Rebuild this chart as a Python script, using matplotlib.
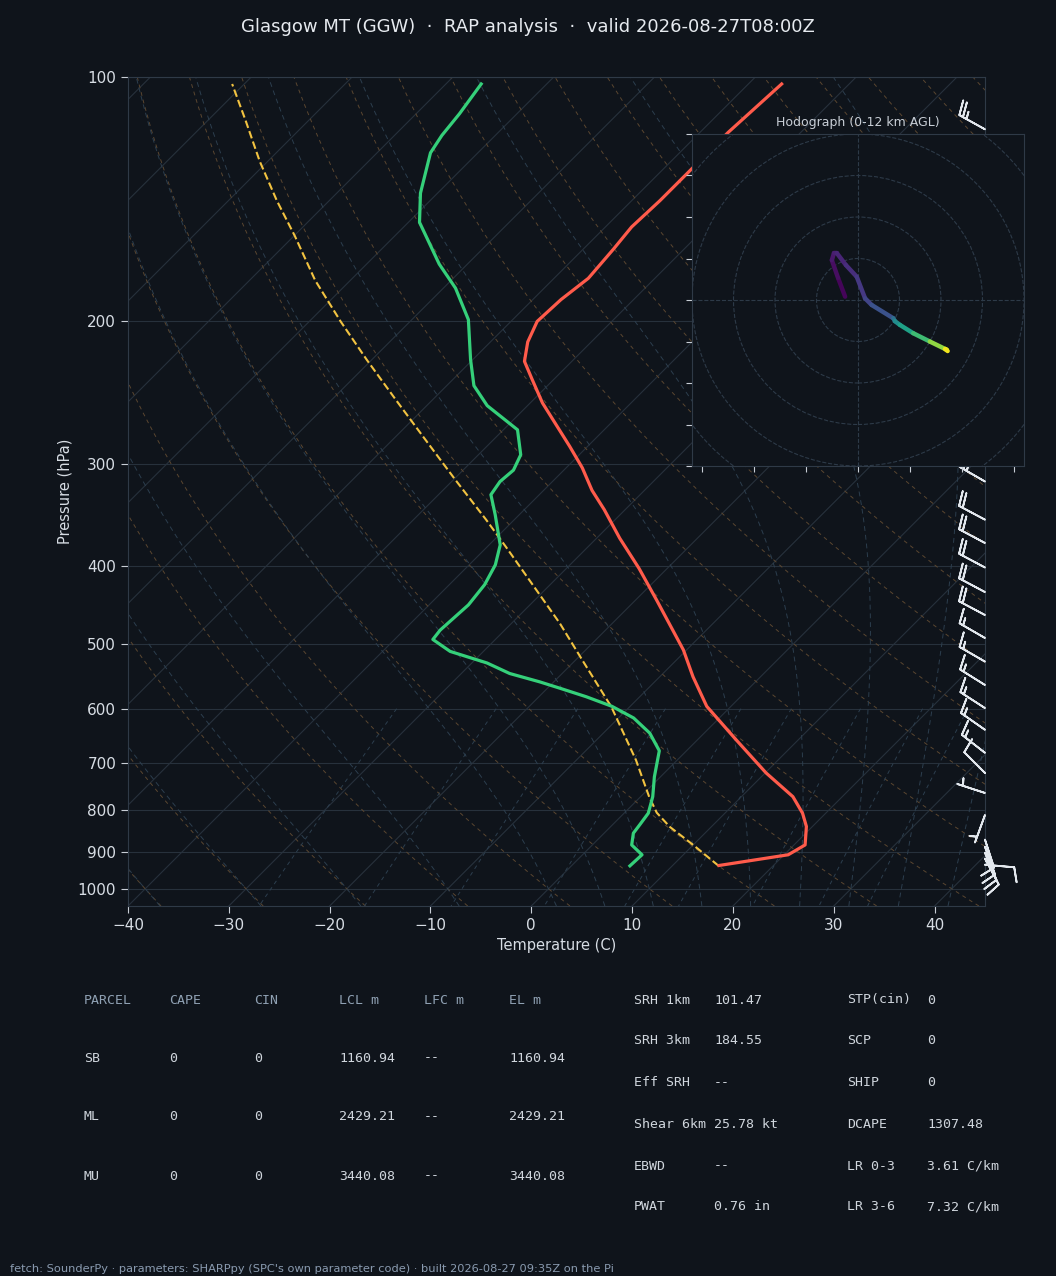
import numpy as np
import matplotlib
matplotlib.use("Agg")
import matplotlib.pyplot as plt
from matplotlib import transforms
from matplotlib.collections import LineCollection
from matplotlib.ticker import FixedLocator, NullLocator, FuncFormatter

# ---- sounding values (hPa, degC) ----
temp_p = [936, 908, 883, 838, 807, 770, 720, 656, 596, 548, 508, 441, 403, 370,
          341, 323, 303, 285, 268, 252, 236, 224, 212, 200, 188, 177, 163, 153,
          142, 130, 117, 102]
temp_c = [14.6, 20.4, 21.1, 19.4, 17.7, 15.1, 10.1, 3.9, -2.4, -6.7, -10.3, -17.9,
          -22.8, -27.7, -32.1, -35.2, -38.4, -41.8, -45.3, -48.8, -52.1, -54.7,
          -56.3, -57.4, -57.2, -56.6, -57.0, -57.4, -57.2, -57.2, -57.2, -56.7]

dew_p = [937, 908, 883, 854, 834, 807, 770, 728, 676, 643, 616, 596, 580, 566,
         556, 543, 527, 510, 493, 480, 447, 422, 399, 377, 346, 327, 315, 305,
         292, 272, 254, 240, 223, 199, 182, 170, 151, 139, 124, 118, 111, 102]
dew_c = [5.8, 5.9, 3.9, 2.9, 2.7, 2.4, 1.2, -0.6, -2.7, -5.4, -8.5, -11.8, -15.3,
         -18.8, -21.4, -25.2, -28.5, -33.3, -36.2, -36.4, -36.1, -36.5, -37.4,
         -38.9, -42.4, -44.8, -45.2, -45.0, -45.8, -48.6, -54.0, -57.3, -60.2,
         -64.4, -68.8, -72.8, -78.9, -81.7, -84.7, -85.3, -85.7, -86.5]

parcel_p = [937, 883, 839, 806, 771, 694, 597, 523, 471, 416, 380, 351, 314, 280,
            250, 223, 200, 178, 157, 142, 127, 113, 102]
parcel_c = [14.6, 10.0, 5.9, 3.2, 0.9, -4.1, -11.8, -19.3, -25.2, -32.6, -38.0,
            -42.8, -49.7, -56.7, -63.6, -70.5, -76.9, -83.5, -89.9, -95.2, -100.8,
            -106.3, -111.2]

# wind barbs (direction from, speed kt)
barb_p = [116, 315, 351, 375, 402, 431, 460, 491, 525, 561, 599, 637, 680, 720,
          762, 811, 870, 888, 903, 918, 934]
barb_dir = [299, 300, 298, 298, 298, 298, 298, 300, 300, 302, 303, 305, 308, 315,
            288, 200, 162, 160, 157, 152, 95]
barb_spd = [25, 25, 20, 20, 20, 20, 20, 15, 15, 15, 15, 15, 15, 10,
            5, 5, 10, 12, 12, 10, 8]

# hodograph (0-12 km AGL)
hodo_h = [0.0, 0.3, 0.6, 0.9, 1.1, 1.4, 1.7, 2.2, 2.6, 3.4, 5.5, 6.2, 7.5, 9.0,
          11.0, 11.5, 12.0]
hodo_u = [-3.1, -4.8, -6.3, -5.8, -5.1, -2.9, -0.3, 1.7, 3.3, 8.5, 8.9, 10.1,
          13.3, 17.3, 21.4, 21.0, 21.6]
hodo_v = [0.8, 5.3, 9.6, 11.3, 11.3, 8.4, 5.6, 0.4, -1.2, -4.4, -5.1, -6.0,
          -8.0, -10.0, -12.0, -11.8, -12.3]

parcel_rows = [["SB", "0", "0", "1160.94", "--", "1160.94"],
               ["ML", "0", "0", "2429.21", "--", "2429.21"],
               ["MU", "0", "0", "3440.08", "--", "3440.08"]]
parcel_head = ["PARCEL", "CAPE", "CIN", "LCL m", "LFC m", "EL m"]
params_a = [("SRH 1km", "101.47"), ("SRH 3km", "184.55"), ("Eff SRH", "--"),
            ("Shear 6km", "25.78 kt"), ("EBWD", "--"), ("PWAT", "0.76 in")]
params_b = [("STP(cin)", "0"), ("SCP", "0"), ("SHIP", "0"), ("DCAPE", "1307.48"),
            ("LR 0-3", "3.61 C/km"), ("LR 3-6", "7.32 C/km")]

BG = "#0f141b"
GRID = "#27313c"
SPINE = "#2f3a47"
TXT = "#d7dde4"

W, H = 1056, 1276
L, R, T, B = 128, 985, 77, 906

fig = plt.figure(figsize=(W / 100, H / 100), dpi=100, facecolor=BG)
ax = fig.add_axes([L / W, 1 - B / H, (R - L) / W, (B - T) / H], facecolor=BG)
ax.set_yscale("log")
ax.set_ylim(1050, 100)
ax.set_xlim(-40, 45)

# skew in axes space so that isotherms run at 45 degrees on screen
skew = (ax.transScale + ax.transLimits
        + transforms.Affine2D().skew(np.arctan((B - T) / (R - L)), 0)
        + ax.transAxes)

# isotherms and isobars
for t in range(-130, 50, 10):
    ax.plot([t, t], [1050, 100], transform=skew, color=GRID, lw=0.8, zorder=1)
for p in range(100, 1001, 100):
    ax.axhline(p, color=GRID, lw=0.8, zorder=1)

# dry adiabats
pp = np.linspace(1050, 100, 120)
for t0 in np.arange(-50, 201, 10):
    tt = (t0 + 273.15) * (pp / 1000.0) ** 0.2857 - 273.15
    ax.plot(tt, pp, transform=skew, color="#5a4630", lw=0.7,
            ls=(0, (4, 4)), zorder=1)


# moist adiabats
def dtdp(p, t):
    es = 6.112 * np.exp(17.67 * (t - 273.15) / (t - 29.65))
    rs = 0.622 * es / (p - es)
    num = 287.04 * t + 2.501e6 * rs
    den = 1005.7 + 2.501e6 ** 2 * rs * 0.622 / (287.04 * t * t)
    return num / den / p


def integrate(t0, plevs):
    out = [t0]
    t = t0
    for p1, p2 in zip(plevs[:-1], plevs[1:]):
        h = p2 - p1
        k1 = dtdp(p1, t)
        k2 = dtdp(p1 + h / 2, t + h / 2 * k1)
        k3 = dtdp(p1 + h / 2, t + h / 2 * k2)
        k4 = dtdp(p2, t + h * k3)
        t = t + h / 6 * (k1 + 2 * k2 + 2 * k3 + k4)
        out.append(t)
    return np.array(out)


moist_t0 = np.concatenate((np.arange(-40.0, 0.0, 10.0), np.arange(0.0, 45.0, 5.0)))
p_up = np.linspace(1000, 100, 181)
p_dn = np.linspace(1000, 1050, 11)
for t0 in moist_t0:
    tk = t0 + 273.15
    up = integrate(tk, p_up)
    dn = integrate(tk, p_dn)
    pm = np.concatenate((p_dn[::-1], p_up[1:]))
    tm = np.concatenate((dn[::-1], up[1:])) - 273.15
    ax.plot(tm, pm, transform=skew, color="#2c3e4e", lw=0.7,
            ls=(0, (5, 4)), zorder=1)

# mixing ratio lines
pm = np.linspace(600, 1050, 50)
for w in [0.0004, 0.001, 0.002, 0.004, 0.007, 0.01, 0.016, 0.024, 0.032]:
    e = w * pm / (0.622 + w)
    lg = np.log(e / 6.112)
    td = 243.5 * lg / (17.67 - lg)
    ax.plot(td, pm, transform=skew, color="#2c3e4e", lw=0.7,
            ls=(0, (4, 4)), zorder=1)

# sounding
ax.plot(parcel_c, parcel_p, transform=skew, color="#f2c341", lw=1.5, ls="--", zorder=4)
ax.plot(temp_c, temp_p, transform=skew, color="#ff5b4b", lw=2.3, zorder=5)
ax.plot(dew_c, dew_p, transform=skew, color="#35d07a", lw=2.3, zorder=5)

# barbs on the right edge
bd = np.radians(barb_dir)
bu = -np.array(barb_spd) * np.sin(bd)
bv = -np.array(barb_spd) * np.cos(bd)
btrans = transforms.blended_transform_factory(ax.transAxes, ax.transData)
ax.barbs(np.ones(len(barb_p)), barb_p, bu, bv, transform=btrans, clip_on=False,
         length=6.5, sizes=dict(height=0.5, spacing=0.14),
         color="#e3e8ee", linewidth=1.3, zorder=6)

ax.set_xlim(-40, 45)
ax.set_ylim(1050, 100)
ax.yaxis.set_major_locator(FixedLocator(range(100, 1001, 100)))
ax.yaxis.set_minor_locator(NullLocator())
ax.yaxis.set_major_formatter(FuncFormatter(lambda v, pos: "%d" % v))
ax.xaxis.set_major_locator(FixedLocator(range(-40, 41, 10)))
ax.tick_params(colors="#c8ced6", labelcolor=TXT, labelsize=11, length=5)
for s in ax.spines.values():
    s.set_color(SPINE)
ax.set_xlabel("Temperature (C)", color=TXT, fontsize=10.5)
ax.set_ylabel("Pressure (hPa)", color=TXT, fontsize=10.5)

# hodograph inset
hx = fig.add_axes([692 / W, 1 - 466 / H, 332 / W, 332 / H], facecolor=BG)
hx.set_xlim(-40, 40)
hx.set_ylim(-40, 40)
for r in range(10, 61, 10):
    hx.add_patch(plt.Circle((0, 0), r, fill=False, ls="--", lw=0.8, color="#2d3a48"))
hx.axhline(0, color="#2d3a48", ls="--", lw=0.8)
hx.axvline(0, color="#2d3a48", ls="--", lw=0.8)
pts = np.array([hodo_u, hodo_v]).T.reshape(-1, 1, 2)
segs = np.concatenate([pts[:-1], pts[1:]], axis=1)
hh = np.array(hodo_h)
lc = LineCollection(segs, cmap="viridis", norm=plt.Normalize(0, 12),
                    linewidth=3.2, capstyle="round", joinstyle="round")
lc.set_array((hh[:-1] + hh[1:]) / 2)
hx.add_collection(lc)
hx.set_xticks(np.arange(-37.5, 37.6, 12.5))
hx.set_yticks(range(-40, 41, 10))
hx.tick_params(labelbottom=False, labelleft=False, colors="#c8ced6", length=4)
for s in hx.spines.values():
    s.set_color(SPINE)
hx.set_title("Hodograph (0-12 km AGL)", color="#c8ced6", fontsize=9)

# title and footer
fig.text(0.5, 1 - 27 / H, "Glasgow MT (GGW)  \u00b7  RAP analysis  \u00b7  valid 2026-08-27T08:00Z",
         ha="center", va="center", color="#e6eaef", fontsize=13)
fig.text(10 / W, 1 - 1269 / H,
         "fetch: SounderPy \u00b7 parameters: SHARPpy (SPC's own parameter code) \u00b7 built 2026-08-27 09:35Z on the Pi",
         ha="left", va="center", color="#8a9bb0", fontsize=8.2)

# parameter tables
mono = "DejaVu Sans Mono"
col_x = [84, 169, 254, 339, 424, 509]
row_y = [1000, 1058, 1117, 1176]
for cx, lab in zip(col_x, parcel_head):
    fig.text(cx / W, 1 - row_y[0] / H, lab, family=mono, fontsize=9.5,
             color="#8fa1b3", va="center")
for ry, row in zip(row_y[1:], parcel_rows):
    for cx, val in zip(col_x, row):
        fig.text(cx / W, 1 - ry / H, val, family=mono, fontsize=9.5,
                 color="#d0d6dd", va="center")

prow_y = [1000, 1041, 1083, 1124, 1166, 1207]
for ry, (k, v) in zip(prow_y, params_a):
    fig.text(634 / W, 1 - ry / H, k, family=mono, fontsize=9.5, color="#d0d6dd", va="center")
    fig.text(714 / W, 1 - ry / H, v, family=mono, fontsize=9.5, color="#d0d6dd", va="center")
for ry, (k, v) in zip(prow_y, params_b):
    fig.text(847 / W, 1 - ry / H, k, family=mono, fontsize=9.5, color="#d0d6dd", va="center")
    fig.text(927 / W, 1 - ry / H, v, family=mono, fontsize=9.5, color="#d0d6dd", va="center")

fig.savefig("out.png", dpi=100, facecolor=BG)
